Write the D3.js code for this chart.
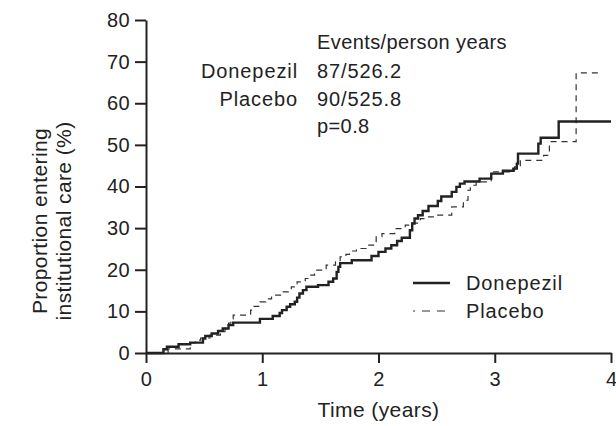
<!DOCTYPE html>
<html>
<head>
<meta charset="utf-8">
<script src="https://cdn.jsdelivr.net/npm/d3@7"></script>
<style>
  body { margin: 0; background: #fff; }
  svg text { font-family: "Liberation Sans", Arial, sans-serif; fill: #222; letter-spacing: 0.4px; }
</style>
</head>
<body>
<div id="chart"></div>
<script>
// Cumulative proportion entering institutional care (%), step times in years
const donepezilTimes = [0, 0.15, 0.18, 0.28, 0.38, 0.49, 0.51, 0.565, 0.62, 0.66, 0.71, 0.75,
    0.98, 1.09, 1.15, 1.17, 1.21, 1.24, 1.28, 1.30, 1.32, 1.35, 1.38, 1.48, 1.57, 1.61, 1.64,
    1.655, 1.67, 1.77, 1.94, 2.0, 2.06, 2.11, 2.16, 2.2, 2.27, 2.29, 2.31, 2.34, 2.38, 2.43,
    2.51, 2.54, 2.63, 2.67, 2.70, 2.74, 2.87, 2.97, 3.07, 3.16, 3.19, 3.20, 3.375, 3.395, 3.55, 4.0];
const donepezilValues = [0, 0.9, 1.5, 2.1, 2.5, 3.5, 4.1, 4.7, 5.3, 5.9, 6.7, 7.3,
    8.2, 8.9, 9.6, 10.3, 11.1, 11.7, 12.3, 13.3, 14.3, 15.1, 15.9, 16.3, 17.1, 17.9, 19.5,
    20.7, 21.6, 22.3, 23.3, 24.3, 25.1, 25.9, 26.9, 27.7, 29.5, 31.1, 32.3, 33.1, 34.1, 35.3,
    36.5, 37.6, 38.7, 39.9, 40.7, 41.2, 41.9, 43.1, 43.8, 44.3, 45.5, 47.9, 50.3, 51.7, 55.6, 55.6];

const placeboTimes = [0, 0.19, 0.38, 0.425, 0.47, 0.55, 0.64, 0.68, 0.71, 0.73, 0.75, 0.90,
    0.93, 0.98, 1.03, 1.08, 1.18, 1.25, 1.30, 1.37, 1.41, 1.45, 1.55, 1.63, 1.67, 1.72, 1.75,
    1.81, 1.90, 1.98, 2.03, 2.14, 2.23, 2.29, 2.36, 2.41, 2.50, 2.63, 2.73, 2.77, 2.79, 2.84,
    2.97, 3.17, 3.22, 3.42, 3.47, 3.70, 3.89];
const placeboValues = [0, 1.0, 2.4, 3.1, 3.6, 4.3, 5.1, 6.0, 7.2, 8.2, 9.1, 10.3,
    11.2, 12.3, 13.0, 13.9, 14.7, 15.9, 17.1, 17.9, 18.7, 19.9, 21.1, 21.9, 23.1, 23.7, 24.5,
    25.1, 25.9, 27.9, 28.7, 29.9, 30.7, 31.2, 32.3, 32.7, 33.1, 35.1, 36.7, 39.1, 40.3, 41.1,
    43.5, 44.7, 46.3, 47.5, 50.8, 67.3, 67.3];

const xTicks = [0, 1, 2, 3, 4];
const yTicks = [0, 10, 20, 30, 40, 50, 60, 70, 80];

const statsHeader = 'Events/person years';
const statsRows = [
    ['Donepezil', '87/526.2'],
    ['Placebo', '90/525.8']
];
const pValue = 'p=0.8';

const margin = {top: 20, right: 5, bottom: 73, left: 146};
const totalW = 616, totalH = 426;
const width = totalW - margin.left - margin.right;
const height = totalH - margin.top - margin.bottom;
const fontSize = '20px';

const svg = d3.select('#chart').append('svg')
    .attr('width', totalW)
    .attr('height', totalH);

const g = svg.append('g')
    .attr('transform', `translate(${margin.left},${margin.top})`);

const x = d3.scaleLinear().domain([0, 4]).range([0, width]);
const y = d3.scaleLinear().domain([0, 80]).range([height, 0]);

// Axes
const xAxis = g.append('g')
    .attr('transform', `translate(0,${height})`)
    .call(d3.axisBottom(x).tickValues(xTicks).tickFormat(d3.format('d'))
        .tickSize(10).tickSizeOuter(0).tickPadding(9));
const yAxis = g.append('g')
    .call(d3.axisLeft(y).tickValues(yTicks).tickFormat(d3.format('d'))
        .tickSize(11).tickSizeOuter(0).tickPadding(5));

[xAxis, yAxis].forEach(a => {
    a.select('.domain').attr('stroke', '#222').attr('stroke-width', 2);
    a.selectAll('.tick line').attr('stroke', '#222').attr('stroke-width', 2);
    a.selectAll('.tick text').style('font-size', fontSize).attr('fill', '#222');
});
// keep the last x tick label inside the frame
xAxis.selectAll('.tick text').filter(d => d === 4).attr('text-anchor', 'end').attr('dx', 6);

// Axis titles
g.append('text')
    .attr('x', x(2))
    .attr('y', height + 64)
    .attr('text-anchor', 'middle')
    .style('font-size', '21px')
    .text('Time (years)');

const yTitle = svg.append('text')
    .attr('transform', `translate(47,221) rotate(-90)`)
    .attr('text-anchor', 'middle')
    .style('font-size', '21px');
yTitle.append('tspan').attr('x', 0).attr('dy', 0).text('Proportion entering');
yTitle.append('tspan').attr('x', 0).attr('dy', 24).text('institutional care (%)');

// Step curves
const line = d3.line()
    .x(d => x(d[0]))
    .y(d => y(d[1]))
    .curve(d3.curveStepAfter);

const placebo = placeboTimes.map((t, i) => [t, placeboValues[i]]);
const donepezil = donepezilTimes.map((t, i) => [t, donepezilValues[i]]);

g.append('path')
    .datum(placebo)
    .attr('d', line)
    .attr('fill', 'none')
    .attr('stroke', '#333')
    .attr('stroke-width', 1.2)
    .attr('stroke-dasharray', '6,5');

g.append('path')
    .datum(donepezil)
    .attr('d', line)
    .attr('fill', 'none')
    .attr('stroke', '#222')
    .attr('stroke-width', 2.4);

// Stats annotation
svg.append('text')
    .attr('x', 317).attr('y', 49)
    .style('font-size', fontSize)
    .text(statsHeader);

statsRows.forEach((row, i) => {
    svg.append('text')
        .attr('x', 298).attr('y', 78 + i * 28)
        .attr('text-anchor', 'end')
        .style('font-size', fontSize)
        .style('letter-spacing', '0.9px')
        .text(row[0]);
    svg.append('text')
        .attr('x', 317).attr('y', 78 + i * 28)
        .style('font-size', fontSize)
        .style('letter-spacing', '0.9px')
        .text(row[1]);
});

svg.append('text')
    .attr('x', 317).attr('y', 133)
    .style('font-size', fontSize)
    .text(pValue);

// Legend
const legend = svg.append('g').attr('transform', 'translate(413,283)');
[['Donepezil', false], ['Placebo', true]].forEach((item, i) => {
    const row = legend.append('g').attr('transform', `translate(0,${i * 28})`);
    row.append('line')
        .attr('x1', 0).attr('x2', 37)
        .attr('y1', 0).attr('y2', 0)
        .attr('stroke', item[1] ? '#333' : '#222')
        .attr('stroke-width', item[1] ? 1.2 : 2.4)
        .attr('stroke-dasharray', item[1] ? '8,7' : null)
        .attr('stroke-dashoffset', item[1] ? 6 : null);
    row.append('text')
        .attr('x', 53).attr('y', 7)
        .style('font-size', fontSize)
        .style('letter-spacing', '0.9px')
        .text(item[0]);
});
</script>
</body>
</html>
